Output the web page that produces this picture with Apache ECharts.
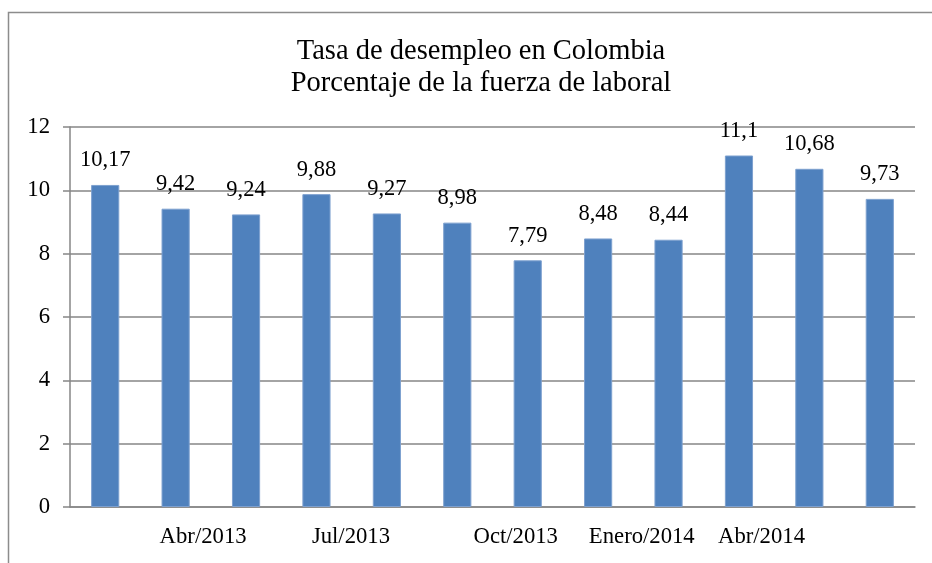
<!DOCTYPE html>
<html>
<head>
<meta charset="utf-8">
<script src="https://cdn.jsdelivr.net/npm/echarts@6/dist/echarts.min.js"></script>
<style>html,body{margin:0;padding:0;background:#fff;}#c{width:932px;height:563px;}</style>
</head>
<body>
<div id="c"></div>
<script>
var titleLines = ['Tasa de desempleo en Colombia', 'Porcentaje de la fuerza de laboral'];
var categories = ['Mar/2013','Abr/2013','May/2013','Jun/2013','Jul/2013','Ago/2013','Sep/2013','Oct/2013','Nov/2013','Dic/2013','Enero/2014','Feb/2014'];
var values = [10.17, 9.42, 9.24, 9.88, 9.27, 8.98, 7.79, 8.48, 8.44, 11.1, 10.68, 9.73];
var xLabelText = ['Abr/2013', 'Jul/2013', 'Oct/2013', 'Enero/2014', 'Abr/2014'];
var xLabelPos = [1.89, 3.99, 6.33, 8.12, 9.82];
var yTicks = [0, 2, 4, 6, 8, 10, 12];

var FONT = '"Liberation Serif", "Times New Roman", serif';
var chart = echarts.init(document.getElementById('c'));
chart.setOption({
  backgroundColor: '#ffffff',
  animation: false,
  graphic: [{
    type: 'rect', left: 6, top: 10, z: -1,
    shape: { x: 0, y: 0, width: 960, height: 600 },
    style: { fill: 'none', stroke: '#8c8c8c', lineWidth: 1.5 }
  }],
  title: {
    text: titleLines.join('\n'),
    left: 476, top: 31, textAlign: 'center',
    textStyle: { fontFamily: FONT, fontSize: 28.5, fontWeight: 'normal', color: '#000', lineHeight: 32 }
  },
  grid: { left: 70, right: 17, top: 127, bottom: 56, containLabel: false },
  xAxis: [{
    type: 'category', data: categories,
    axisLine: { show: true, lineStyle: { color: '#868686', width: 1.5 } },
    axisTick: { show: false },
    axisLabel: { show: false }
  }, {
    type: 'value', min: 0, max: 12, position: 'bottom',
    axisLine: { show: false }, axisTick: { show: false }, splitLine: { show: false },
    axisLabel: {
      show: true, customValues: xLabelPos, margin: 19,
      fontFamily: FONT, fontSize: 22.7, color: '#000',
      formatter: function (v) {
        for (var i = 0; i < xLabelPos.length; i++) { if (Math.abs(xLabelPos[i] - v) < 1e-6) return xLabelText[i]; }
        return '';
      }
    }
  }],
  yAxis: {
    type: 'value', min: yTicks[0], max: yTicks[yTicks.length - 1], interval: 2,
    axisLine: { show: true, lineStyle: { color: '#868686', width: 1.5 } },
    axisTick: { show: true, length: 7, lineStyle: { color: '#868686', width: 1.5 } },
    splitLine: { show: true, lineStyle: { color: '#868686', width: 1.5 } },
    axisLabel: { margin: 20, fontFamily: FONT, fontSize: 22.7, color: '#000' }
  },
  series: [{
    type: 'bar', data: values, xAxisIndex: 0,
    barWidth: '40%',
    itemStyle: { color: '#4F81BD', borderColor: '#7da0cf', borderWidth: 1 },
    label: {
      show: true, position: 'top', distance: 13,
      fontFamily: FONT, fontSize: 22.5, color: '#000',
      formatter: function (p) { return String(p.value).replace('.', ','); }
    }
  }]
});
</script>
</body>
</html>
